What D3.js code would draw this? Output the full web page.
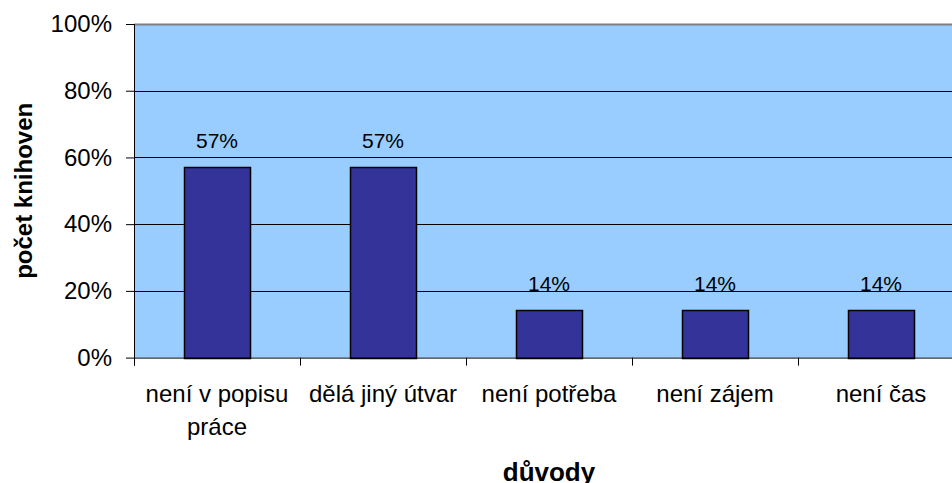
<!DOCTYPE html>
<html>
<head>
    <meta charset="utf-8">
    <script src="https://d3js.org/d3.v7.min.js"></script>
    <style>
        body { margin: 0; background: #fff; }
        svg { display: block; font-family: "Liberation Sans", Arial, sans-serif; }
    </style>
</head>
<body>
    <div id="chart"></div>
    <script>
        // data
        var categories = ["není v popisu práce", "dělá jiný útvar", "není potřeba", "není zájem", "není čas"];
        var values = [0.5714, 0.5714, 0.1429, 0.1429, 0.1429];
        var valueLabels = ["57%", "57%", "14%", "14%", "14%"];
        var yTicks = [0, 0.2, 0.4, 0.6, 0.8, 1.0];

        var width = 952, height = 483;
        var margin = { top: 24, left: 134 };
        var plotW = 830, plotH = 333.6;

        var svg = d3.select("#chart").append("svg")
            .attr("width", width)
            .attr("height", height);

        var g = svg.append("g")
            .attr("transform", "translate(" + margin.left + "," + margin.top + ")");

        var x = d3.scaleBand()
            .domain(categories)
            .range([0, plotW])
            .paddingInner(0.6)
            .paddingOuter(0.3);

        var y = d3.scaleLinear()
            .domain([0, 1])
            .range([plotH, 0]);

        // plot background
        g.append("rect")
            .attr("width", plotW)
            .attr("height", plotH)
            .attr("fill", "#99ccff");

        // gridlines
        g.selectAll(".grid")
            .data(yTicks.filter(function(d) { return d > 0 && d < 1; }))
            .enter().append("line")
            .attr("x1", 0).attr("x2", plotW)
            .attr("y1", function(d) { return Math.round(y(d)) + 0.5; })
            .attr("y2", function(d) { return Math.round(y(d)) + 0.5; })
            .attr("stroke", "#000")
            .attr("stroke-width", 1);

        // top border
        g.append("line")
            .attr("x1", 0).attr("x2", plotW)
            .attr("y1", y(1) + 0.5).attr("y2", y(1) + 0.5)
            .attr("stroke", "#808080")
            .attr("stroke-width", 2);

        // bars
        g.selectAll(".bar")
            .data(values)
            .enter().append("rect")
            .attr("class", "bar")
            .attr("x", function(d, i) { return Math.round(x(categories[i])) + 0.5; })
            .attr("y", function(d) { return Math.round(y(d)) + 0.5; })
            .attr("width", Math.round(x.bandwidth()))
            .attr("height", function(d) { return Math.round(y(0)) - Math.round(y(d)); })
            .attr("fill", "#333399")
            .attr("stroke", "#000")
            .attr("stroke-width", 1.5);

        // value labels
        g.selectAll(".vlabel")
            .data(values)
            .enter().append("text")
            .attr("x", function(d, i) { return x(categories[i]) + x.bandwidth() / 2; })
            .attr("y", function(d) { return y(d) - 19; })
            .attr("text-anchor", "middle")
            .style("font-size", "21px")
            .style("fill", "#000")
            .text(function(d, i) { return valueLabels[i]; });

        // y axis
        var yAxis = d3.axisLeft(y)
            .tickValues(yTicks)
            .tickSize(8)
            .tickPadding(14)
            .tickFormat(d3.format(".0%"));
        var ya = g.append("g").call(yAxis);
        ya.select(".domain").attr("stroke", "#000").attr("d", "M0.5," + (plotH + 8) + "V0");
        ya.selectAll("text").style("font-size", "24px").style("font-family", "Liberation Sans, Arial, sans-serif").attr("fill", "#000");
        ya.selectAll("line").attr("stroke", "#000");

        // x axis: ticks on band boundaries
        var xb = categories.map(function(c) { return x(c) - x.step() * x.paddingInner() / 2; });
        xb.push(plotW);
        var xa = g.append("g").attr("transform", "translate(0," + plotH + ")");
        xa.append("line")
            .attr("x1", 0).attr("x2", plotW)
            .attr("y1", 0.5).attr("y2", 0.5)
            .attr("stroke", "#000");
        xa.selectAll(".xtick")
            .data(xb)
            .enter().append("line")
            .attr("x1", function(d) { return Math.round(d) + 0.5; })
            .attr("x2", function(d) { return Math.round(d) + 0.5; })
            .attr("y1", 0).attr("y2", 8)
            .attr("stroke", "#000");

        // category labels, wrapped to the band width
        var lab = xa.selectAll(".xlabel")
            .data(categories)
            .enter().append("text")
            .attr("x", function(d) { return x(d) + x.bandwidth() / 2; })
            .attr("y", 44)
            .attr("text-anchor", "middle")
            .style("font-size", "24px")
            .style("fill", "#000");
        lab.each(function(d) {
            var t = d3.select(this);
            var words = d.split(" "), line = [], lines = [];
            var tmp = t.append("tspan");
            words.forEach(function(w) {
                line.push(w);
                tmp.text(line.join(" "));
                if (tmp.node().getComputedTextLength() > x.step() - 8 && line.length > 1) {
                    line.pop();
                    lines.push(line.join(" "));
                    line = [w];
                }
            });
            lines.push(line.join(" "));
            tmp.remove();
            lines.forEach(function(l, i) {
                t.append("tspan")
                    .attr("x", t.attr("x"))
                    .attr("dy", i === 0 ? 0 : 33)
                    .text(l);
            });
        });

        // axis titles
        svg.append("text")
            .attr("x", margin.left + plotW / 2)
            .attr("y", 481)
            .attr("text-anchor", "middle")
            .style("font-size", "26px")
            .style("font-weight", "bold")
            .text("důvody");

        svg.append("text")
            .attr("transform", "translate(32," + (margin.top + plotH / 2) + ") rotate(-90)")
            .attr("text-anchor", "middle")
            .style("font-size", "24px")
            .style("font-weight", "bold")
            .text("počet knihoven");
    </script>
</body>
</html>
